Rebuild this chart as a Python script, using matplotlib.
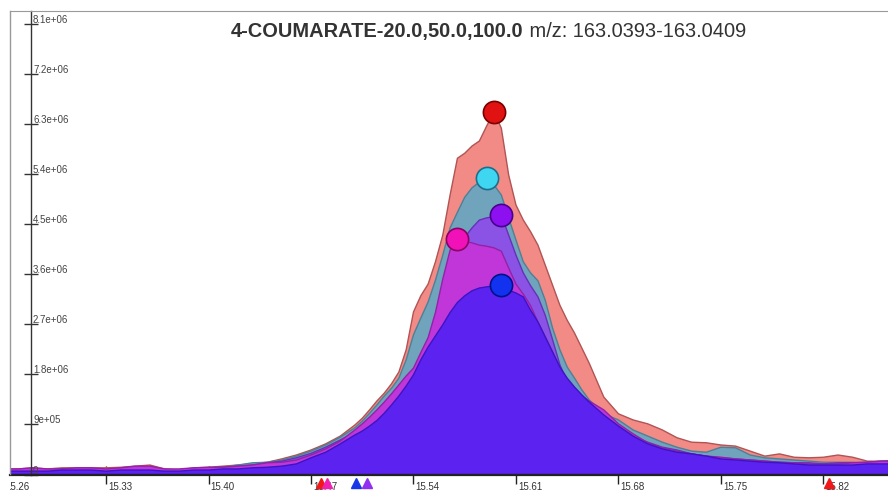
import matplotlib.pyplot as plt
import matplotlib.transforms as mtransforms
from matplotlib.lines import Line2D
from matplotlib.patches import Rectangle

plt.rcParams['font.family'] = ['Liberation Sans', 'DejaVu Sans']

# retention time (min)
times = [15.26, 15.27, 15.28, 15.29, 15.30, 15.31, 15.32, 15.33, 15.34, 15.35, 15.36, 15.37,
         15.38, 15.39, 15.40, 15.41, 15.42, 15.43, 15.44, 15.45, 15.46, 15.47, 15.48, 15.49,
         15.50, 15.505, 15.51, 15.515, 15.52, 15.525, 15.53, 15.535, 15.54, 15.545, 15.55,
         15.555, 15.56, 15.565, 15.57, 15.575, 15.58, 15.585, 15.59, 15.595, 15.60, 15.605,
         15.61, 15.615, 15.62, 15.625, 15.63, 15.635, 15.64, 15.645, 15.65, 15.655, 15.66,
         15.67, 15.68, 15.69, 15.70, 15.71, 15.72, 15.73, 15.74, 15.75, 15.76, 15.77, 15.78,
         15.79, 15.80, 15.81, 15.82, 15.83, 15.84, 15.85, 15.86, 15.87]

# intensities, in millions
red = [.10, .10, .12, .10, .12, .12, .12, .12, .13, .15, .17, .10, .08, .12, .13, .15, .17, .19,
       .22, .28, .35, .44, .55, .69,
       .89, 1.01, 1.16, 1.32, 1.46, 1.63, 1.84, 2.24, 2.92, 3.21, 3.42, 3.82, 4.30, 5.02, 5.68,
       5.77, 5.90, 5.99, 6.26, 6.51, 6.22, 5.38, 4.84, 4.57, 4.36, 4.12, 3.76, 3.40, 3.04, 2.77,
       2.54, 2.27, 2.00,
       1.39, 1.09, .98, .91, .80, .66, .58, .57, .53, .51, .42, .33, .37, .31, .30, .31, .35, .31,
       .24, .24, .25]
cyan = [.08, .08, .10, .08, .10, .10, .10, .08, .10, .12, .12, .08, .08, .10, .12, .13, .17, .21,
        .22, .26, .33, .42, .53, .67,
        .84, .96, 1.10, 1.25, 1.41, 1.55, 1.73, 2.06, 2.51, 2.81, 3.10, 3.49, 3.94, 4.43, 4.71,
        4.98, 5.15, 5.25, 5.33, 5.20, 5.02, 4.61, 4.21, 3.82, 3.62, 3.48, 3.13, 2.63, 2.24, 1.93,
        1.73, 1.52, 1.34,
        1.09, .98, .80, .69, .58, .49, .42, .40, .49, .48, .35, .30, .28, .26, .24, .22, .22, .22,
        .21, .22, .22]
purple = [.08, .08, .10, .08, .10, .10, .10, .08, .10, .12, .12, .08, .08, .10, .12, .13, .15, .17,
          .21, .24, .30, .38, .49, .62,
          .76, .86, .98, 1.10, 1.24, 1.38, 1.54, 1.70, 1.90, 2.15, 2.42, 2.80, 3.30, 3.75, 4.04,
          4.26, 4.43, 4.57, 4.61, 4.63, 4.66, 4.30, 3.94, 3.62, 3.39, 3.19, 2.86, 2.42, 1.97, 1.66,
          1.52, 1.36, 1.21,
          1.00, .85, .69, .58, .49, .44, .37, .33, .30, .28, .26, .24, .22, .21, .21, .19, .21, .21,
          .22, .24, .24]
magenta = [.10, .10, .12, .10, .10, .12, .12, .10, .12, .15, .15, .10, .10, .12, .13, .13, .15, .17,
           .21, .22, .26, .35, .46, .60,
           .80, .91, 1.03, 1.16, 1.30, 1.45, 1.61, 1.77, 1.91, 2.19, 2.46, 2.91, 3.51, 4.03, 4.23,
           4.19, 4.16, 4.12, 4.10, 4.07, 4.01, 3.71, 3.42, 3.24, 3.03, 2.74, 2.47, 2.20, 1.90, 1.70,
           1.55, 1.41, 1.32,
           1.16, .91, .73, .57, .48, .42, .37, .33, .31, .28, .26, .24, .22, .21, .19, .19, .19, .21,
           .22, .24, .24]
blue = [.06, .06, .06, .06, .08, .08, .08, .06, .08, .08, .08, .06, .06, .08, .08, .10, .10, .12,
        .13, .15, .19, .30, .40, .55,
        .71, .78, .87, .97, 1.10, 1.25, 1.41, 1.59, 1.79, 2.06, 2.29, 2.49, 2.69, 2.91, 3.09,
        3.21, 3.30, 3.35, 3.37, 3.39, 3.40, 3.31, 3.26, 3.19, 2.95, 2.74, 2.47, 2.20, 1.93, 1.73,
        1.57, 1.43, 1.30,
        1.07, .87, .69, .55, .46, .40, .37, .33, .28, .26, .24, .22, .21, .19, .17, .17, .17, .17,
        .19, .19, .19]

series = [red, cyan, purple, magenta, blue]
fill_colors = ["#f28a86", "#70a3bc", "#8b52e6", "#c136d8", "#5c22f0"]
edge_colors = ["#b05454", "#4e8096", "#6432b8", "#9222a8", "#3c14c4"]
dot_colors = ["#e01212", "#3ed6f0", "#8c10f0", "#f012b8", "#1232f0"]
dot_edges = ["#7a0000", "#1c6f8c", "#48008c", "#8a0064", "#00128a"]

# MS2 scan markers
ms2_times = [15.477, 15.481, 15.501, 15.508, 15.824]
ms2_colors = ["#f01818", "#f020b0", "#1838e8", "#9030f0", "#f01818"]

xticks = [15.26, 15.33, 15.40, 15.47, 15.54, 15.61, 15.68, 15.75, 15.82]
yticks = [0, 0.9, 1.8, 2.7, 3.6, 4.5, 5.4, 6.3, 7.2, 8.1]
ylabels = ["0", "9e+05", "1.8e+06", "2.7e+06", "3.6e+06", "4.5e+06", "5.4e+06", "6.3e+06",
           "7.2e+06", "8.1e+06"]

W, H = 888, 491
fig = plt.figure(figsize=(W / 100, H / 100), dpi=100)
ax = fig.add_axes([10 / W, 1 - 474.5 / H, 878 / W, 463.5 / H])

for vals, fc, ec in zip(series, fill_colors, edge_colors):
    v = [x * 1e6 for x in vals]
    ax.fill_between(times, v, 0, facecolor=fc, edgecolor=ec, linewidth=1.0, zorder=2)

for vals, c, e in zip(series, dot_colors, dot_edges):
    i = vals.index(max(vals))
    ax.plot(times[i], vals[i] * 1e6, "o", ms=16, mfc=c, mec=e, mew=1.2, zorder=5)

ax.set_xlim(15.2644, 15.8641)
ax.set_ylim(0, 8.325e6)

ax.spines["right"].set_visible(False)
ax.spines["top"].set_color("#9a9a9a")
ax.spines["bottom"].set_color("#222222")
ax.spines["bottom"].set_linewidth(1.6)
ax.spines["left"].set_position(("axes", 21 / 878))
ax.spines["left"].set_color("#333333")
ax.spines["left"].set_linewidth(1.0)
for s in ax.spines.values():
    s.set_zorder(6)

ax.set_xticks(xticks[1:])
ax.set_yticks([y * 1e6 for y in yticks])
ax.tick_params(axis="x", direction="inout", length=13, width=1, color="#222222", labelbottom=False)
ax.tick_params(axis="y", direction="inout", length=10, width=1, color="#333333", labelleft=False)

# gray frame on the left edge
fig.add_artist(Line2D([10 / W, 10 / W], [1 - 474 / H, 1 - 11 / H], color="#9a9a9a", lw=1))

clip = Rectangle((10 / W, 0), 878 / W, 1, transform=fig.transFigure)
for t in xticks:
    lab = ax.annotate(f"{t:.2f}", xy=(t, 0), xycoords=("data", "axes fraction"),
                      xytext=(2, -7), textcoords="offset pixels", ha="left", va="top",
                      fontsize=7, color="#333333", annotation_clip=False)
    lab.set_clip_path(clip)
    lab.set_clip_on(True)

for y, lab in zip(yticks, ylabels):
    ax.annotate(lab, xy=(21 / 878, y * 1e6), xycoords=("axes fraction", "data"),
                xytext=(2, 1), textcoords="offset pixels", ha="left", va="baseline",
                fontsize=7, color="#444444", annotation_clip=False)

trans = mtransforms.blended_transform_factory(ax.transData, ax.transAxes)
for t, c in zip(ms2_times, ms2_colors):
    ax.plot(t, -0.019, marker="^", ms=7, color=c, transform=trans, clip_on=False, zorder=7)

bold = fig.text(231 / W, 1 - 37 / H, "4-COUMARATE-20.0,50.0,100.0", fontsize=14.4,
                fontweight="bold", color="#333333", ha="left", va="baseline")
ax.annotate(" m/z: 163.0393-163.0409", xy=(1, 0), xycoords=bold, ha="left", va="bottom",
            fontsize=14.4, color="#333333", annotation_clip=False)

fig.savefig("out.png", dpi=100)
